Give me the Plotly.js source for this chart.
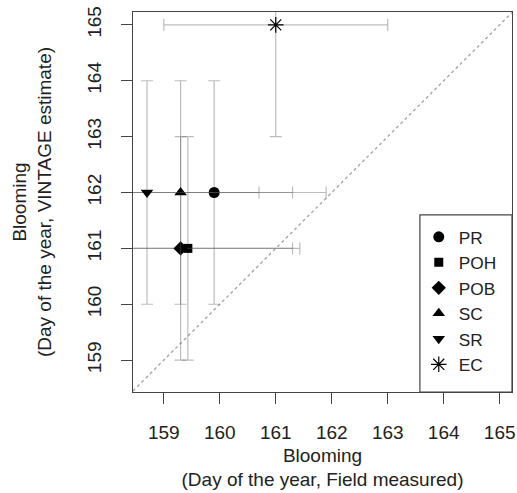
<!DOCTYPE html>
<html>
<head>
<meta charset="utf-8">
<script src="https://cdn.plot.ly/plotly-3.0.1.min.js"></script>
<style>
html,body{margin:0;padding:0;background:#fff;}
#chart{width:517px;height:493px;}
</style>
</head>
<body>
<div id="chart"></div>
<script>
// ---- data ----
var categories = ['PR', 'POH', 'POB', 'SC', 'SR', 'EC'];
var fieldMeasured = [159.9, 159.43, 159.3, 159.3, 158.7, 161.0];
var vintageEstimate = [162, 161, 161, 162, 162, 165];
var fieldError = [2, 2, 2, 2, 2, 2];
var vintageError = [2, 2, 2, 2, 2, 2];
var symbols = ['circle', 'square', 'diamond', 'triangle-up', 'triangle-down', 'asterisk-open'];
var tickValues = [159, 160, 161, 162, 163, 164, 165];

var xRange = [158.45, 165.22];
var yRange = [158.43, 165.23];

var FONT = '"Liberation Sans", Arial, sans-serif';
var TXT = '#222';
var errColor = 'rgba(95,95,95,0.42)';

var traces = categories.map(function (name, i) {
  var isStar = symbols[i] === 'asterisk-open';
  return {
    type: 'scatter',
    mode: 'markers',
    name: name,
    x: [fieldMeasured[i]],
    y: [vintageEstimate[i]],
    marker: {
      symbol: symbols[i],
      size: isStar ? 13 : (symbols[i] === 'square' ? 9 : 11),
      color: '#000',
      line: {color: '#000', width: isStar ? 1.2 : 0}
    },
    error_x: {type: 'data', array: [fieldError[i]], visible: true, color: errColor, thickness: 1.2, width: 6},
    error_y: {type: 'data', array: [vintageError[i]], visible: true, color: errColor, thickness: 1.2, width: 6}
  };
});

var lo = Math.max(xRange[0], yRange[0]);
var hi = Math.min(xRange[1], yRange[1]);

var axisCommon = {
  showgrid: false,
  zeroline: false,
  showline: true,
  mirror: true,
  linecolor: '#444',
  linewidth: 1.2,
  ticks: 'outside',
  ticklen: 11,
  tickwidth: 1.2,
  tickcolor: '#444',
  tickvals: tickValues,
  ticktext: tickValues.map(String),
  tickfont: {family: FONT, size: 19, color: TXT},
  ticklabelstandoff: 12
};

var layout = {
  width: 517,
  height: 493,
  margin: {l: 133, r: 5, t: 12, b: 101},
  paper_bgcolor: '#fff',
  plot_bgcolor: '#fff',
  font: {family: FONT, size: 19, color: TXT},
  showlegend: true,
  legend: {
    x: 0.754, y: 0.455, xanchor: 'left', yanchor: 'top',
    bgcolor: 'rgba(0,0,0,0)', borderwidth: 0,
    font: {family: FONT, size: 17.3, color: TXT},
    tracegroupgap: 0
  },
  xaxis: Object.assign({}, axisCommon, {
    range: xRange,
    title: {text: 'Blooming<br>(Day of the year, Field measured)', font: {family: FONT, size: 19, color: TXT}, standoff: 6}
  }),
  yaxis: Object.assign({}, axisCommon, {
    range: yRange,
    tickangle: -90,
    title: {text: 'Blooming<br>(Day of the year, VINTAGE estimate)', font: {family: FONT, size: 19, color: TXT}, standoff: 27}
  }),
  shapes: [
    {type: 'line', xref: 'x', yref: 'y', x0: lo, y0: lo, x1: hi, y1: hi,
     line: {color: '#a5a5a5', width: 1.4, dash: 'dot'}, layer: 'below'},
    {type: 'rect', xref: 'paper', yref: 'paper', x0: 0.757, x1: 1, y0: 0, y1: 0.466,
     line: {color: '#444', width: 1.2}, fillcolor: '#fff', layer: 'below'}
  ]
};

Plotly.newPlot('chart', traces, layout, {displayModeBar: false, staticPlot: true});
</script>
</body>
</html>
